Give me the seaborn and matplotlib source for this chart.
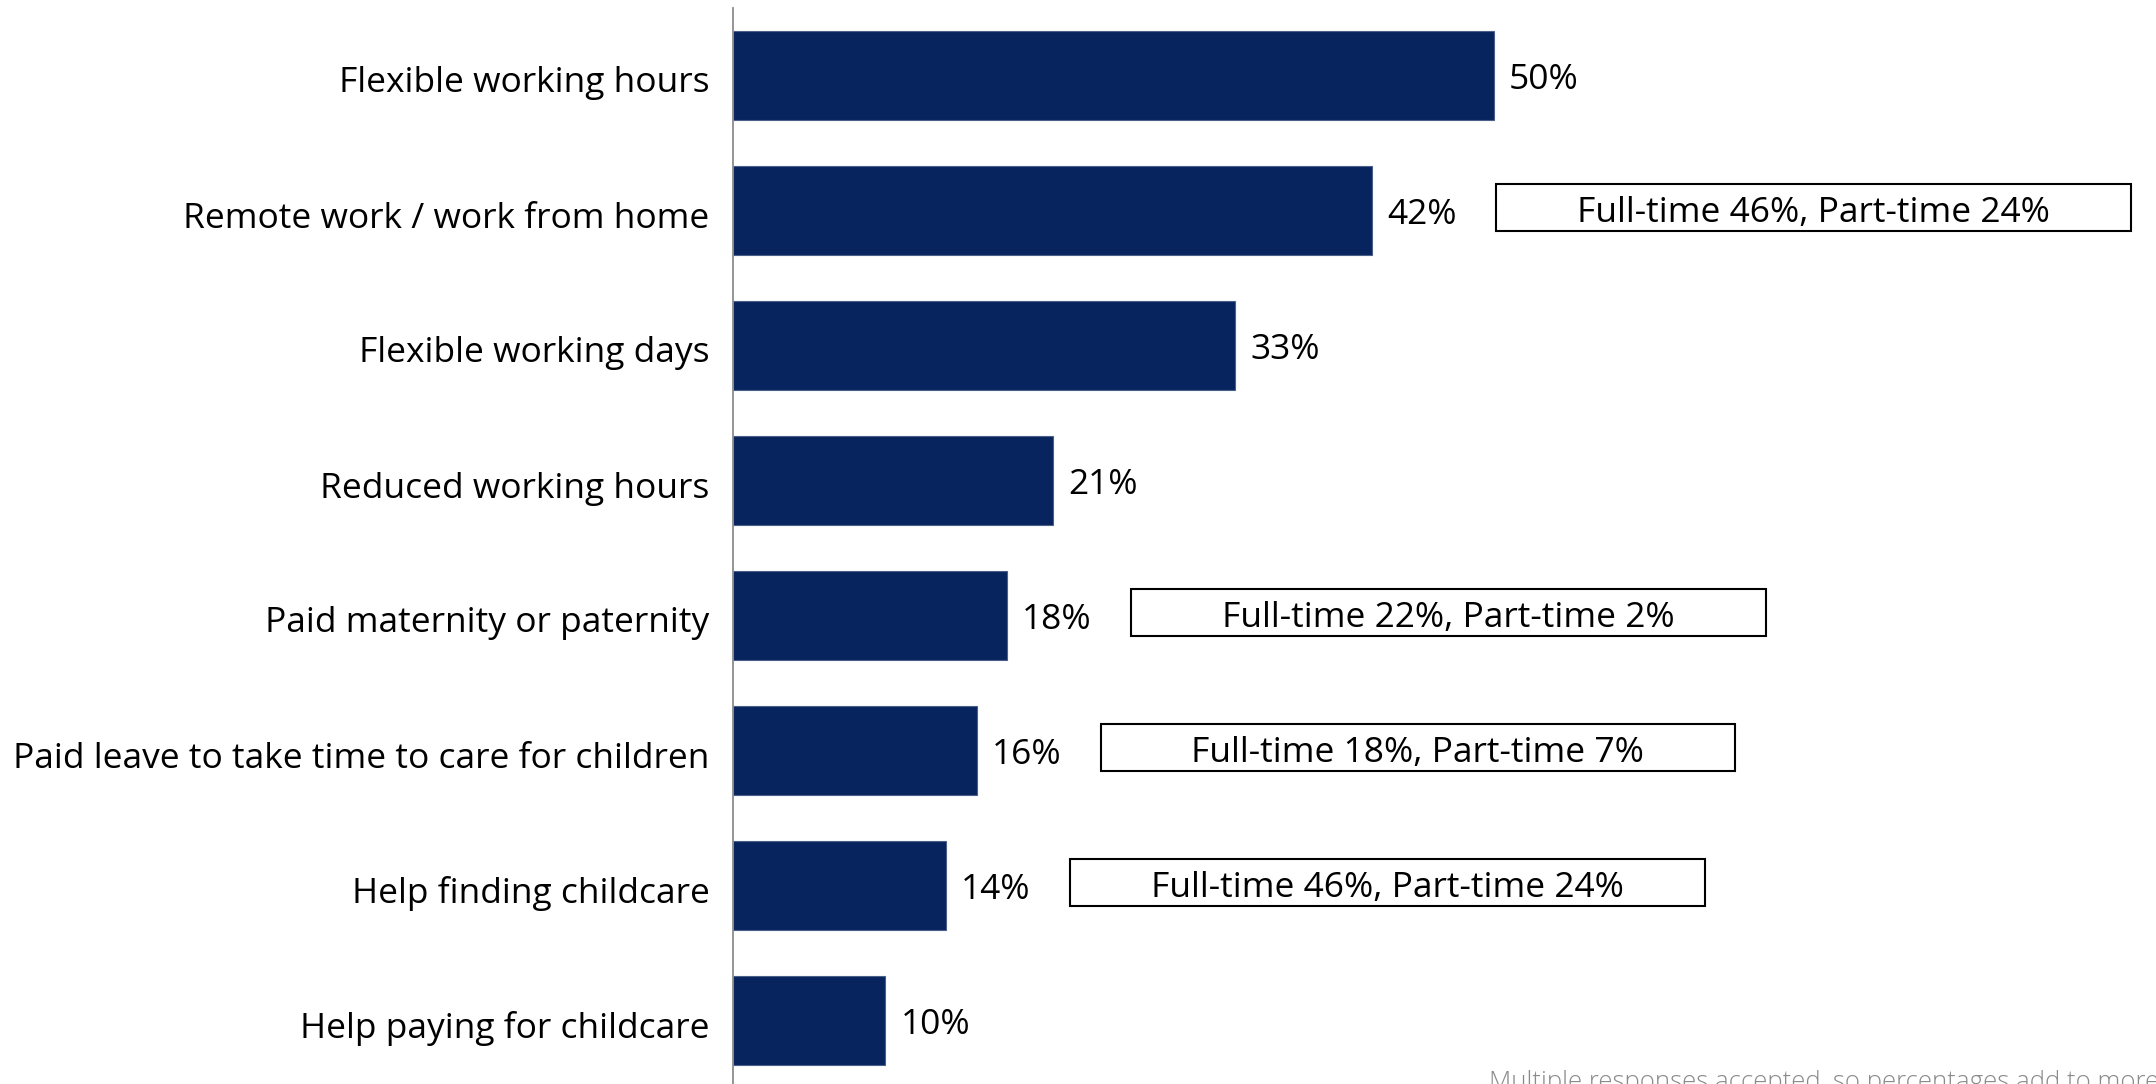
import matplotlib
matplotlib.use("Agg")
import matplotlib.pyplot as plt
import matplotlib.transforms as mtransforms
import seaborn as sns
import pandas as pd
from matplotlib.patches import Rectangle

# Data
categories = [
    "Flexible working hours",
    "Remote work / work from home",
    "Flexible working days",
    "Reduced working hours",
    "Paid maternity or paternity",
    "Paid leave to take time to care for children",
    "Help finding childcare",
    "Help paying for childcare",
]
percent = [50, 42, 33, 21, 18, 16, 14, 10]
notes = ["", "Full-time 46%, Part-time 24%", "", "",
         "Full-time 22%, Part-time 2%", "Full-time 18%, Part-time 7%",
         "Full-time 46%, Part-time 24%", ""]
footnote = "Multiple responses accepted, so percentages add to more than 100%"

sns.set_style("white")
plt.rcParams['font.family'] = ['Open Sans', 'DejaVu Sans']

df = pd.DataFrame({"benefit": categories, "pct": percent, "note": notes})

W, H = 2156, 1084
fig = plt.figure(figsize=(W / 100, H / 100), dpi=100)
# one category step = 135px, bottom of the axis runs slightly off the canvas
ax = fig.add_axes([733 / W, -4 / H, 1 - 733 / W, 1080 / H])

bar_color = "#08245E"
sns.barplot(data=df, x="pct", y="benefit", orient="h", color=bar_color,
            saturation=1, width=0.66, edgecolor="#4a5f8a", linewidth=0.8, ax=ax)

ax.set_xlim(0, 93.5)
ax.set_ylim(len(categories) - 0.5, -0.5)
ax.set_xlabel("")
ax.set_ylabel("")
ax.set_xticks([])

for s in ["top", "right", "bottom"]:
    ax.spines[s].set_visible(False)
ax.spines["left"].set_color("#8c8c8c")
ax.spines["left"].set_linewidth(1.3)

label_fs = 25.5

# ticks sit between categories
ax.set_yticks([i - 0.5 for i in range(len(categories) + 1)], minor=True)
ax.tick_params(axis="y", which="minor", length=13, width=1.3, color="#8c8c8c", direction="out")
ax.tick_params(axis="y", which="major", length=0, pad=17, labelsize=label_fs, labelcolor="black")
shift = mtransforms.ScaledTranslation(0, -4 / 100, fig.dpi_scale_trans)
for lbl in ax.get_yticklabels():
    lbl.set_transform(lbl.get_transform() + shift)

for i, row in df.iterrows():
    ax.text(row.pct + 1.0, i + 0.03, f"{row.pct}%", va="center", ha="left",
            fontsize=label_fs, color="black")
    if row.note:
        cx = row.pct + 29
        bw, bh = 41.7, 0.35
        ax.add_patch(Rectangle((cx - bw / 2, i - bh / 2 - 0.02), bw, bh,
                               facecolor="white", edgecolor="black", linewidth=1.5,
                               clip_on=False))
        ax.text(cx, i + 0.015, row.note, va="center", ha="center",
                fontsize=label_fs, color="black")

fig.text(1489 / W, (H - 1070) / H, footnote, ha="left", va="top",
         fontsize=18.5, fontweight="light", color="#8a8a8a")

fig.savefig("out.png", dpi=100)
